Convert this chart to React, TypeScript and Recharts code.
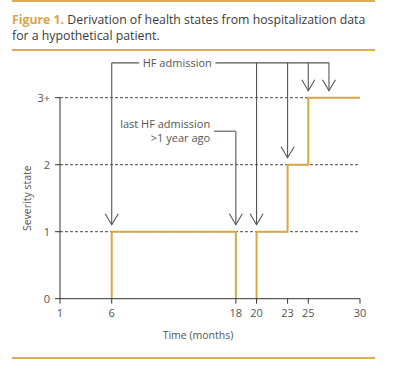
import React from 'react';
import { LineChart, Line, XAxis, YAxis, CartesianGrid, ReferenceLine } from 'recharts';

// Axis ticks
const monthTicks = [1, 6, 18, 20, 23, 25, 30];
const stateTicks = [0, 1, 2, 3];
const stateTickLabels = ['0', '1', '2', '3+'];

// First hospitalization episode: state drops back once the admission is over a year old
const episodeOneMonths = [6, 6, 18, 18];
const episodeOneStates = [0, 1, 1, 0];

// Second episode: state escalates with each readmission
const episodeTwoMonths = [20, 20, 23, 23, 25, 25, 30];
const episodeTwoStates = [0, 1, 1, 2, 2, 3, 3];

// HF admissions and the state each one leads to
const admissionMonths = [6, 20, 23, 25, 27];
const admissionStates = [1, 1, 2, 3, 3];

// Admission that ages out after one year
const expiryMonth = 18;
const expiryState = 1;

// Heights (in state units) of the annotation brackets above the curve
const admissionBracketLevel = 3.52;
const expiryBracketLevel = 2.5;
const expiryBracketStart = 15.9;

const episodeOne = episodeOneMonths.map((m, i) => ({ month: m, state: episodeOneStates[i] }));
const episodeTwo = episodeTwoMonths.map((m, i) => ({ month: m, state: episodeTwoStates[i] }));

const GOLD = '#d6a845';
const RULE = '#d9ac58';
const ARROW = '#555555';
const AXIS = '#333333';
const TEXT = '#555555';
const FONT = '"Open Sans", sans-serif';

const ArrowDown = (p: any) => {
  const { x1, y1, x2, y2 } = p;
  const tipY = y2 - 7;
  return (
    <g>
      <line x1={x1} y1={y1} x2={x2} y2={tipY} stroke={ARROW} strokeWidth={1.1} />
      <polyline
        points={`${x2 - 6.5},${tipY - 11} ${x2},${tipY} ${x2 + 6.5},${tipY - 11}`}
        fill="none"
        stroke={ARROW}
        strokeWidth={1.1}
      />
    </g>
  );
};

const AdmissionBracket = (p: any) => {
  const { x1, y1, x2 } = p;
  return (
    <g>
      <line x1={x1} y1={y1} x2={x2} y2={y1} stroke={ARROW} strokeWidth={1.1} />
      <text
        x={x1 + 31}
        y={y1}
        dominantBaseline="central"
        fontFamily={FONT}
        fontSize={11}
        fill={TEXT}
        stroke="#ffffff"
        strokeWidth={9}
        paintOrder="stroke"
      >
        HF admission
      </text>
    </g>
  );
};

const ExpiryBracket = (p: any) => {
  const { x1, y1, x2 } = p;
  return (
    <g>
      <line x1={x1} y1={y1} x2={x2} y2={y1} stroke={ARROW} strokeWidth={1.1} />
      <text x={x1 - 4} y={y1 - 7.5} textAnchor="end" dominantBaseline="central" fontFamily={FONT} fontSize={11} fill={TEXT}>
        last HF admission
      </text>
      <text x={x1 - 4} y={y1 + 6} textAnchor="end" dominantBaseline="central" fontFamily={FONT} fontSize={11} fill={TEXT}>
        &gt;1 year ago
      </text>
    </g>
  );
};

const YTitle = (p: any) => {
  const vb = p.viewBox;
  const x = vb.x + vb.width - 33;
  const y = vb.y + vb.height / 2;
  return (
    <text x={x} y={y} transform={`rotate(-90, ${x}, ${y})`} textAnchor="middle" dominantBaseline="central" fontFamily={FONT} fontSize={10.5} fill={TEXT}>
      Severity state
    </text>
  );
};

const XTitle = (p: any) => {
  const vb = p.viewBox;
  const x = vb.x + vb.width / 2 - 12;
  const y = vb.y + 36;
  return (
    <text x={x} y={y} textAnchor="middle" dominantBaseline="central" fontFamily={FONT} fontSize={10.5} fill={TEXT}>
      Time (months)
    </text>
  );
};

export default function App() {
  return (
    <div style={{ position: 'absolute', left: 0, top: 0, width: 397, height: 388, background: '#ffffff', fontFamily: FONT }}>
      <div style={{ position: 'absolute', left: 12, top: 0, width: 363, height: 2, background: RULE }} />
      <div
        style={{
          position: 'absolute',
          left: 12,
          top: 12,
          width: 380,
          fontSize: 12.3,
          lineHeight: '16px',
          color: '#3b3b3b',
        }}
      >
        <span style={{ color: '#d9a548', fontWeight: 700 }}>Figure 1.</span> Derivation of health states from hospitalization data
        <br />
        for a hypothetical patient.
      </div>
      <div style={{ position: 'absolute', left: 12, top: 49, width: 363, height: 2, background: RULE }} />
      <div style={{ position: 'absolute', left: 12, top: 357, width: 363, height: 2, background: RULE }} />

      <div style={{ position: 'absolute', left: 0, top: 0 }}>
        <LineChart width={397} height={388} margin={{ top: 97.7, right: 37, bottom: 88.3, left: 59 }}>
          <CartesianGrid vertical={false} horizontalValues={[1, 2, 3]} stroke={AXIS} strokeDasharray="3 2" strokeWidth={0.9} />
          <XAxis
            type="number"
            dataKey="month"
            domain={[1, 30]}
            ticks={monthTicks}
            interval={0}
            height={1}
            tickSize={5}
            tickMargin={5}
            stroke={AXIS}
            tick={{ fill: TEXT, fontSize: 11, fontFamily: FONT }}
            label={<XTitle />}
          />
          <YAxis
            type="number"
            dataKey="state"
            domain={[0, 3]}
            ticks={stateTicks}
            interval={0}
            width={1}
            tickSize={5}
            tickMargin={5}
            stroke={AXIS}
            tickFormatter={(v: number) => stateTickLabels[stateTicks.indexOf(v)]}
            tick={{ fill: TEXT, fontSize: 11, fontFamily: FONT }}
            label={<YTitle />}
          />
          <Line data={episodeOne} dataKey="state" type="linear" stroke={GOLD} strokeWidth={2} dot={false} isAnimationActive={false} />
          <Line data={episodeTwo} dataKey="state" type="linear" stroke={GOLD} strokeWidth={2} dot={false} isAnimationActive={false} />

          <ReferenceLine
            segment={[
              { x: admissionMonths[0], y: admissionBracketLevel },
              { x: admissionMonths[admissionMonths.length - 1], y: admissionBracketLevel },
            ]}
            ifOverflow="visible"
            shape={AdmissionBracket}
          />
          {admissionMonths.map((m, i) => (
            <ReferenceLine
              key={`adm-${m}`}
              segment={[
                { x: m, y: admissionBracketLevel },
                { x: m, y: admissionStates[i] },
              ]}
              ifOverflow="visible"
              shape={ArrowDown}
            />
          ))}
          <ReferenceLine
            segment={[
              { x: expiryBracketStart, y: expiryBracketLevel },
              { x: expiryMonth, y: expiryBracketLevel },
            ]}
            ifOverflow="visible"
            shape={ExpiryBracket}
          />
          <ReferenceLine
            segment={[
              { x: expiryMonth, y: expiryBracketLevel },
              { x: expiryMonth, y: expiryState },
            ]}
            ifOverflow="visible"
            shape={ArrowDown}
          />
        </LineChart>
      </div>
    </div>
  );
}
